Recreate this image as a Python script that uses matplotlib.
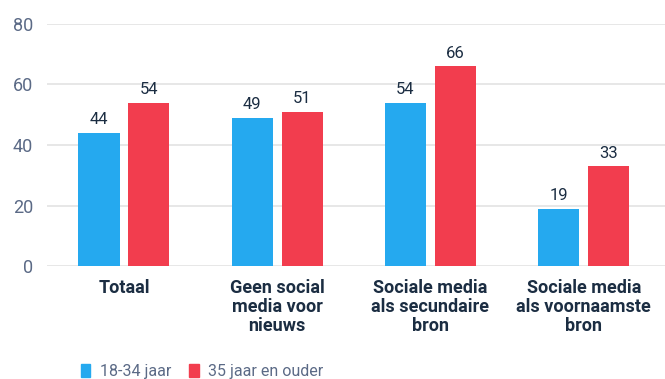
import matplotlib
matplotlib.use("Agg")
import matplotlib.pyplot as plt
import numpy as np
from matplotlib.patches import Patch

categories = ["Totaal", "Geen social\nmedia voor\nnieuws", "Sociale media\nals secundaire\nbron", "Sociale media\nals voornaamste\nbron"]
series_names = ["18-34 jaar", "35 jaar en ouder"]
young = [44, 49, 54, 19]
older = [54, 51, 66, 33]
yticks = [0, 20, 40, 60, 80]

blue = "#25A9EF"
red = "#F23D4E"
navy = "#1B2D42"
gray = "#5B6A86"

plt.rcParams['font.family'] = ['Roboto', 'DejaVu Sans']

fig = plt.figure(figsize=(6.65, 3.79), dpi=100)
ax = fig.add_axes([0.0707, 0.298, 0.9293, 0.639])

x = np.arange(len(categories))
w = 0.268
off = 0.163
b1 = ax.bar(x - off, young, width=w, color=blue, zorder=3)
b2 = ax.bar(x + off, older, width=w, color=red, zorder=3)

for bars, vals in ((b1, young), (b2, older)):
    for rect, v in zip(bars, vals):
        ax.annotate(str(v), (rect.get_x() + rect.get_width() / 2, v),
                    xytext=(0, 4), textcoords="offset points",
                    ha="center", va="bottom", fontsize=12, color=navy)

ax.set_xlim(-0.502, 3.53)
ax.set_ylim(0, 80)
ax.set_yticks(yticks)
ax.yaxis.grid(True, color="#E3E3E3", linewidth=1.2, zorder=0)
ax.set_axisbelow(True)
for s in ax.spines.values():
    s.set_visible(False)
ax.tick_params(axis="y", length=0, pad=10, labelsize=13, labelcolor=gray)
ax.tick_params(axis="x", length=0, pad=9)
ax.set_xticks(x)
ax.set_xticklabels(categories, fontsize=13, fontweight="bold", color=navy, linespacing=1.08, va="top")

handles = [Patch(color=blue), Patch(color=red)]
fig.legend(handles, series_names, loc="lower left", bbox_to_anchor=(0.1, -0.038),
           ncol=2, frameon=False, fontsize=11.5, labelcolor=gray,
           handlelength=0.6, handleheight=0.9, handletextpad=0.6, columnspacing=1.1)

fig.savefig("out.png", dpi=100)
